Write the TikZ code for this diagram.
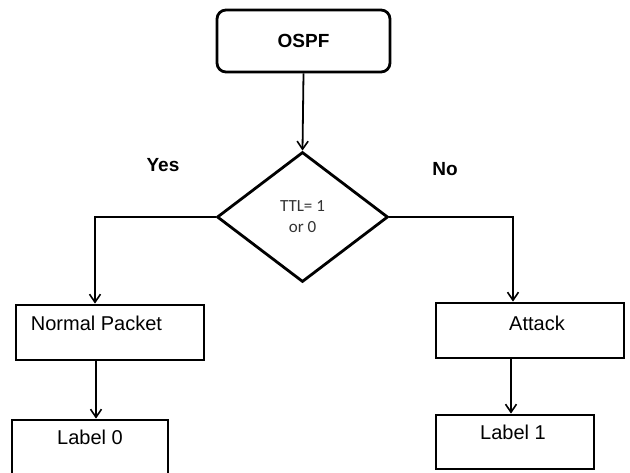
\documentclass[tikz,border=0pt]{standalone}
\usepackage{fontspec}
\setmainfont{Liberation Sans}
\newfontfamily\condfont{Carlito}
\usetikzlibrary{shapes.geometric,arrows.meta}
\begin{document}
\begin{tikzpicture}[x=1pt,y=-1pt,
  box/.style={draw,rectangle,line width=2.8pt,inner sep=0pt},
  link/.style={line width=1.8pt,-{Straight Barb[length=8pt,width=11pt,line width=1.6pt]}},
  boxtext/.style={inner sep=0pt,font=\fontsize{20}{22}\selectfont},
  yesno/.style={inner sep=0pt,font=\fontsize{19}{21}\selectfont\bfseries}]
\useasboundingbox (0,0) rectangle (630,473);
\fill[white] (0,0) rectangle (630,473);

% start block
\node[box,rounded corners=9pt,minimum width=173pt,minimum height=62pt]
  (ospf) at (303.5,41) {\fontsize{19}{21}\selectfont\bfseries OSPF};

% decision
\node[draw,diamond,line width=2.8pt,minimum width=171pt,minimum height=130pt,
  inner sep=0pt,align=center,text=black!80,
  font=\condfont\fontsize{17}{21}\selectfont]
  (dec) at (302.5,217) {TTL= 1\\or 0};

% outcome boxes
\node[box,minimum width=188pt,minimum height=55pt] (np)   at (110,332.5) {};
\node[box,minimum width=156pt,minimum height=54pt] (lab0) at (90,447)    {};
\node[box,minimum width=188pt,minimum height=55pt] (att)  at (530,330.5) {};
\node[box,minimum width=158pt,minimum height=54pt] (lab1) at (515,442)   {};

\node[boxtext] (nptxt)   at (96.5,323) {Normal Packet};
\node[boxtext] (lab0txt) at (90,437)   {Label 0};
\node[boxtext] (atttxt)  at (537,323)  {Attack};
\node[boxtext] (lab1txt) at (513,432)  {Label 1};

% branch labels
\node[yesno] (yes) at (163,165) {Yes};
\node[yesno] (no)  at (445,169) {No};

% connector columns
\coordinate (colL)  at (95,0);
\coordinate (colL2) at (96,0);
\coordinate (colR)  at (513,0);
\coordinate (colR2) at (511,0);

\draw[link] (ospf.south) -- (dec.north);
\draw[link] (dec.west) -| (colL |- np.north);
\draw[link] (dec.east) -| (colR |- att.north);
\draw[link] (colL2 |- np.south) -- (colL2 |- lab0.north);
\draw[link] (colR2 |- att.south) -- (colR2 |- lab1.north);
\end{tikzpicture}
\end{document}
